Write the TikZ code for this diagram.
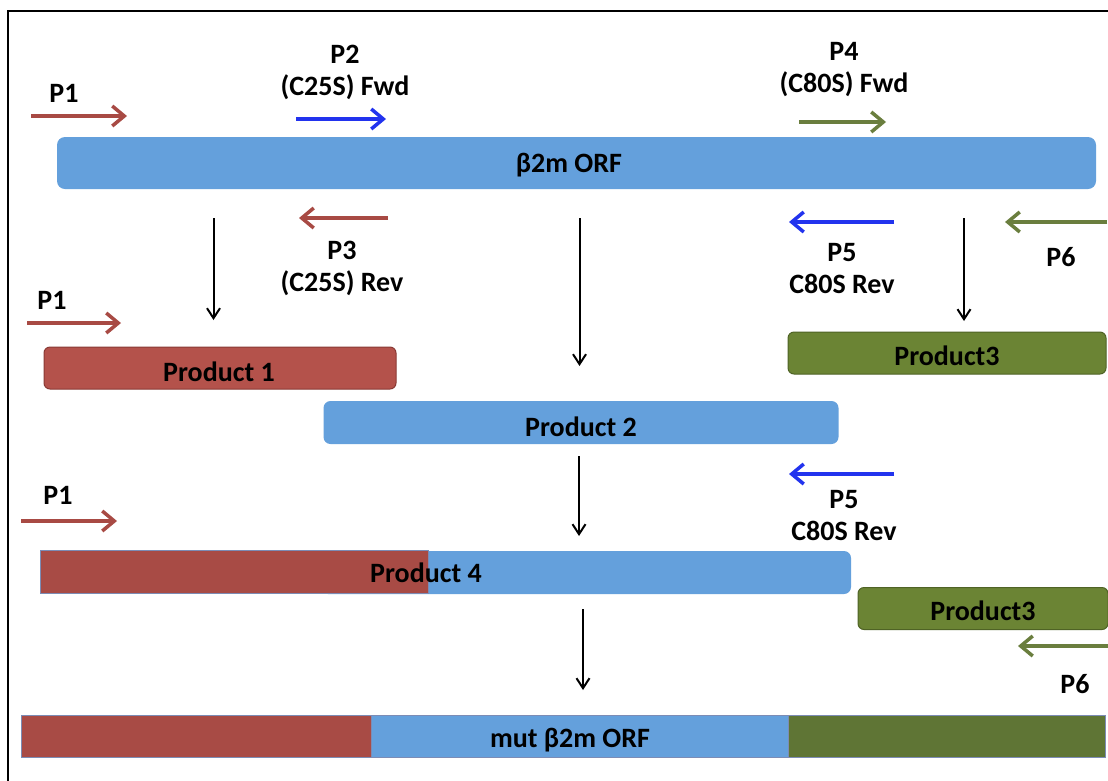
\documentclass[tikz,border=0pt]{standalone}
\usepackage{fontspec}
\setmainfont{Carlito}
\usetikzlibrary{arrows.meta}
\definecolor{cred}{HTML}{A84B45}
\definecolor{credbar}{HTML}{B4524B}
\definecolor{credline}{HTML}{8A3A35}
\definecolor{cblue}{HTML}{64A0DC}
\definecolor{cgreen}{HTML}{6B8434}
\definecolor{cgreenline}{HTML}{4F6325}
\definecolor{cgreenmut}{HTML}{5F7535}
\definecolor{cedge}{HTML}{7C8CB5}
\definecolor{arred}{HTML}{A84A44}
\definecolor{arblue}{HTML}{2233EE}
\definecolor{argreen}{HTML}{6A7E3E}
\tikzset{
  lab/.style={font=\bfseries\fontsize{28}{32}\selectfont, align=center, inner sep=0pt, text=black},
  bartxt/.style={font=\bfseries\fontsize{28}{32}\selectfont, inner sep=0pt, text=black},
  bar/.style={rectangle, inner sep=0pt, text=black},
  primer/.style={line width=3.5pt, -{Straight Barb[length=12pt,width=20pt]}},
  flow/.style={line width=2pt, black, -{Straight Barb[length=10pt,width=13pt]}},
}
\begin{document}
\begin{tikzpicture}[x=1pt,y=-1pt]
\useasboundingbox (0,0) rectangle (1108,780);
\fill[white] (0,0) rectangle (1108,780);
% frame
\coordinate (fbl) at (7.5,781);
\coordinate (ftl) at (7.5,10.5);
\coordinate (ftr) at (1109,10.5);
\draw[line width=2pt] (fbl) -- (ftl) -- (ftr);

% ---------- top: ORF ----------
\node[bar, fill=cblue, rounded corners=8pt, minimum width=1039, minimum height=52] (orf) at (576.5,163) {};
\node[bartxt] (orftxt) at (569,165) {β2m ORF};

% primers above ORF
\node[lab] (p1lab) at (64,93) {P1};
\coordinate (p1s) at (31,116); \coordinate (p1e) at (127,116);
\draw[primer, arred] (p1s) -- (p1e);

\node[lab] (p2lab) at (345,72) {P2\\(C25S) Fwd};
\coordinate (p2s) at (296,119); \coordinate (p2e) at (386,119);
\draw[primer, arblue] (p2s) -- (p2e);

\node[lab] (p4lab) at (844,70) {P4\\(C80S) Fwd};
\coordinate (p4s) at (799,122); \coordinate (p4e) at (886,122);
\draw[primer, argreen] (p4s) -- (p4e);

% primers below ORF
\coordinate (p3s) at (388,218); \coordinate (p3e) at (299,218);
\draw[primer, arred] (p3s) -- (p3e);
\node[lab] (p3lab) at (342,268) {P3\\(C25S) Rev};

\coordinate (p5s) at (894,222); \coordinate (p5e) at (789,222);
\draw[primer, arblue] (p5s) -- (p5e);
\node[lab] (p5lab) at (842,269) {P5\\C80S Rev};

\coordinate (p6s) at (1107,222); \coordinate (p6e) at (1005,222);
\draw[primer, argreen] (p6s) -- (p6e);
\node[lab] (p6lab) at (1061,257) {P6};

% flow arrows from ORF
\coordinate (f1s) at (213.5,218); \coordinate (f1e) at (213.5,320);
\draw[flow] (f1s) -- (f1e);
\coordinate (f2s) at (579.5,218); \coordinate (f2e) at (579.5,366);
\draw[flow] (f2s) -- (f2e);
\coordinate (f3s) at (964,218); \coordinate (f3e) at (964,321);
\draw[flow] (f3s) -- (f3e);

% ---------- products 1,2,3 ----------
\node[lab] (p1blab) at (52,300) {P1};
\coordinate (p1bs) at (27,323); \coordinate (p1be) at (121,323);
\draw[primer, arred] (p1bs) -- (p1be);

\node[bar, fill=credbar, draw=credline, line width=1pt, rounded corners=6pt, minimum width=352, minimum height=42] (prod1) at (220,368) {};
\node[bartxt] (prod1txt) at (219,372) {Product 1};

\node[bar, fill=cgreen, draw=cgreenline, line width=1pt, rounded corners=6pt, minimum width=318, minimum height=42] (prod3) at (947,353) {};
\node[bartxt] (prod3txt) at (947,356) {Product3};

\node[bar, fill=cblue, rounded corners=7pt, minimum width=515, minimum height=43] (prod2) at (581,422.5) {};
\node[bartxt] (prod2txt) at (581,427) {Product 2};

% ---------- second stage ----------
\coordinate (f4s) at (579,456); \coordinate (f4e) at (579,536);
\draw[flow] (f4s) -- (f4e);

\coordinate (p5bs) at (894,474); \coordinate (p5be) at (789,474);
\draw[primer, arblue] (p5bs) -- (p5be);
\node[lab] (p5blab) at (844,516) {P5\\C80S Rev};

\node[lab] (p1clab) at (58,495) {P1};
\coordinate (p1cs) at (21,521); \coordinate (p1ce) at (117,521);
\draw[primer, arred] (p1cs) -- (p1ce);

% Product 4
\node[bar, fill=cblue, rounded corners=7pt, minimum width=530, minimum height=43] (prod4b) at (586,572.5) {};
\node[bar, fill=cred, draw=cedge, line width=0.8pt, minimum width=388, minimum height=43] (prod4r) at (234,571.5) {};
\node[bartxt] (prod4txt) at (426,573) {Product 4};

% Product3 (second)
\node[bar, fill=cgreen, draw=cgreenline, line width=1pt, rounded corners=6pt, minimum width=250, minimum height=42] (prod3b) at (983,608.5) {};
\node[bartxt] (prod3btxt) at (983,611) {Product3};

\coordinate (p6bs) at (1110,646); \coordinate (p6be) at (1018,646);
\draw[primer, argreen] (p6bs) -- (p6be);
\node[lab] (p6blab) at (1075,684) {P6};

\coordinate (f5s) at (583,609); \coordinate (f5e) at (583,690);
\draw[flow] (f5s) -- (f5e);

% ---------- mut ORF ----------
\node[bar, fill=cred, draw=cedge, line width=0.8pt, minimum width=350, minimum height=42] (mutr) at (196.5,736) {};
\node[bar, fill=cblue, draw=cedge, line width=0.8pt, minimum width=417, minimum height=42] (mutb) at (580,736) {};
\node[bar, fill=cgreenmut, draw=cedge, line width=0.8pt, minimum width=317, minimum height=42] (mutg) at (947,736) {};
\node[bartxt] (muttxt) at (570,740) {mut β2m ORF};
\end{tikzpicture}
\end{document}
